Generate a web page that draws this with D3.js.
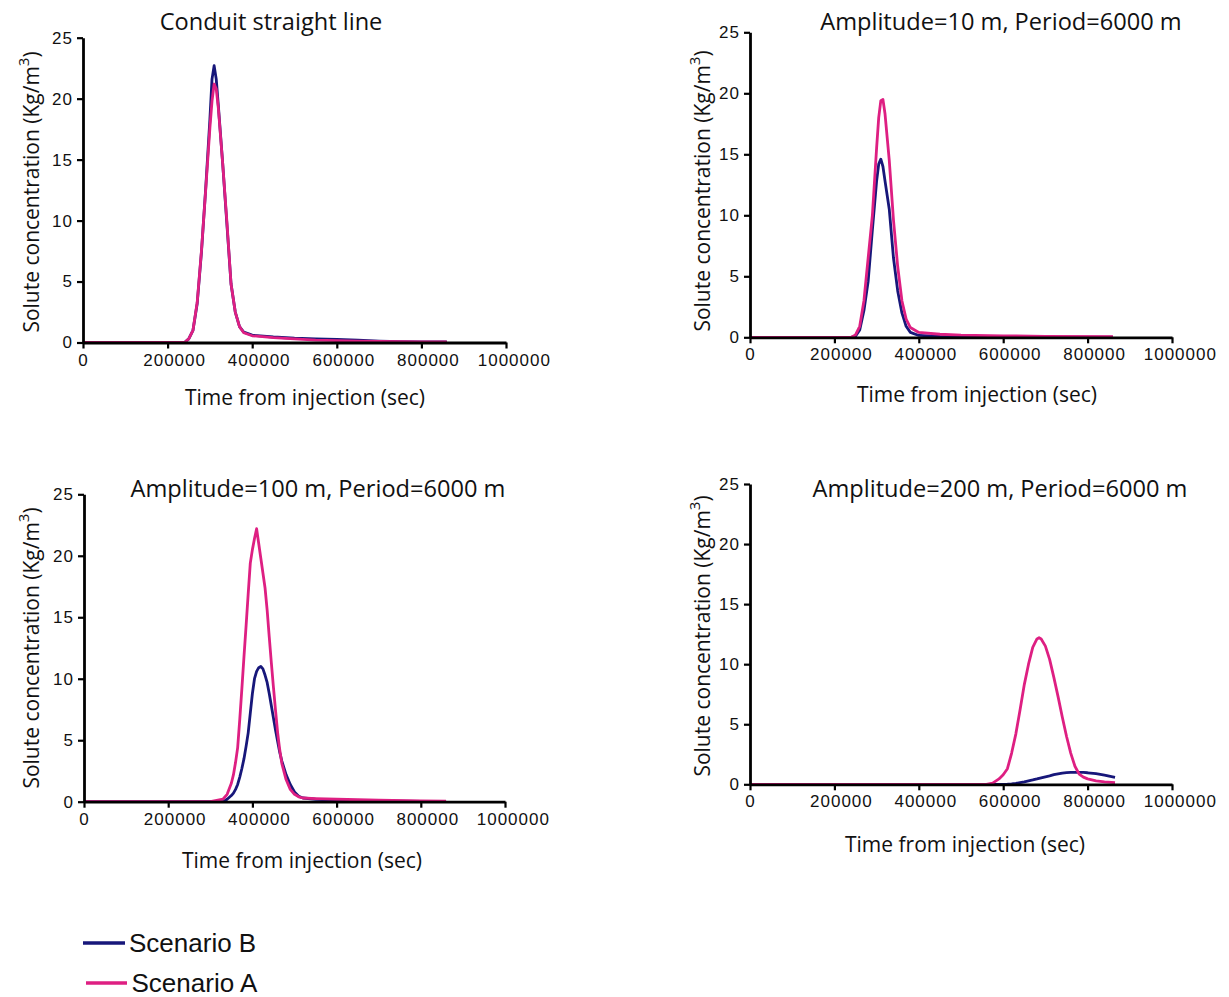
<!DOCTYPE html>
<html>
<head>
<meta charset="utf-8">
<script src="https://cdn.jsdelivr.net/npm/d3@7"></script>
<style>
  html, body { margin: 0; padding: 0; background: #ffffff; }
  svg { display: block; }
</style>
</head>
<body>
<svg id="chart" width="1229" height="997"></svg>
<script>
// ---------------- DATA ----------------
const panelTitles = [
  "Conduit straight line",
  "Amplitude=10 m, Period=6000 m",
  "Amplitude=100 m, Period=6000 m",
  "Amplitude=200 m, Period=6000 m"
];
const seriesNames = ["Scenario B", "Scenario A"];
const xTickValues = [0, 200000, 400000, 600000, 800000, 1000000];
const yTickValues = [0, 5, 10, 15, 20, 25];
const xLabel = "Time from injection (sec)";
const yLabelMain = "Solute concentration (Kg/m";
const yLabelSup = "3";
const yLabelEnd = ")";

// Panel 1: Conduit straight line
const p1Time = [0,100000,200000,240000,250000,260000,270000,280000,290000,300000,305000,310000,315000,320000,330000,340000,350000,360000,370000,380000,400000,450000,500000,550000,600000,650000,700000,750000,800000,860000];
const p1B = [0,0,0,0,0.3,1.0,3.2,7.4,12.6,18.3,21.6,22.7,21.6,19.4,14.8,9.8,4.8,2.5,1.3,0.85,0.6,0.45,0.35,0.3,0.25,0.2,0.12,0.07,0.05,0.05];
const p1A = [0,0,0,0,0.3,1.0,3.3,7.5,12.5,17.6,19.8,21.2,20.8,19.2,14.8,10.0,4.8,2.5,1.3,0.8,0.55,0.4,0.3,0.2,0.15,0.12,0.1,0.07,0.05,0.05];

// Panel 2: Amplitude=10 m
const p2Time = [0,100000,200000,240000,250000,260000,270000,280000,290000,300000,305000,310000,315000,320000,330000,340000,350000,360000,370000,380000,400000,450000,500000,600000,700000,860000];
const p2B = [0,0,0,0,0.1,0.6,2.2,4.6,8.8,12.8,14.2,14.6,14.0,12.8,10.5,6.5,3.8,2.0,0.9,0.4,0.15,0.08,0.05,0.03,0.02,0.02];
const p2A = [0,0,0,0,0.2,0.9,3.0,6.5,10.0,15.5,18.0,19.4,19.5,18.3,14.5,9.6,5.8,3.0,1.5,0.8,0.4,0.25,0.18,0.12,0.08,0.05];

// Panel 3: Amplitude=100 m
const p3Time = [0,100000,200000,300000,330000,340000,350000,355000,360000,365000,370000,375000,380000,385000,390000,395000,400000,405000,410000,415000,420000,425000,430000,435000,440000,445000,450000,455000,460000,465000,470000,480000,490000,500000,510000,520000,550000,600000,700000,800000,860000];
const p3B = [0,0,0,0,0,0.2,0.5,0.7,1.0,1.4,2.0,2.7,3.5,4.5,5.6,7.2,8.8,10.0,10.6,10.9,11.0,10.8,10.3,9.7,8.8,7.8,6.8,5.8,4.9,4.0,3.3,2.2,1.4,0.8,0.45,0.3,0.2,0.12,0.06,0.03,0.03];
const p3A = [0,0,0,0,0.2,0.6,1.5,2.2,3.2,4.4,6.7,9.2,11.8,14.3,16.9,19.4,20.5,21.4,22.2,21.0,19.8,18.6,17.4,15.6,13.4,11.3,9.3,7.4,5.6,4.2,3.1,1.8,1.0,0.6,0.4,0.3,0.25,0.2,0.12,0.06,0.05];

// Panel 4: Amplitude=200 m
const p4Time = [0,200000,400000,560000,575000,590000,600000,610000,620000,630000,640000,650000,660000,670000,680000,685000,690000,700000,710000,720000,730000,740000,750000,760000,770000,780000,790000,800000,820000,840000,865000];
const p4B = [0,0,0,0,0,0,0,0.01,0.03,0.08,0.14,0.2,0.28,0.36,0.45,0.5,0.54,0.62,0.7,0.8,0.87,0.93,0.97,0.99,1.0,1.0,0.99,0.96,0.88,0.76,0.58];
const p4A = [0,0,0,0,0.1,0.45,0.8,1.3,2.6,4.2,6.2,8.3,10.0,11.4,12.1,12.2,12.1,11.5,10.4,8.9,7.3,5.6,4.0,2.6,1.5,0.85,0.6,0.45,0.28,0.2,0.14];

// ---------------- LAYOUT ----------------
const colors = { B: "#17177a", A: "#de1f82" };
const labelFont = "'Open Sans', 'Noto Sans', sans-serif";
const tickFont = "'Liberation Sans', Arial, sans-serif";

const panels = [
  { t: p1Time, B: p1B, A: p1A, x0: 83,  x1: 506,  yTop: 37.7,  yBot: 342.5, titleX: 271,  titleY: 30,  xlabX: 305, xlabY: 405,  ylabX: 32,  ylabY: 192 },
  { t: p2Time, B: p2B, A: p2A, x0: 750, x1: 1172, yTop: 32.3,  yBot: 337.3, titleX: 1001, titleY: 30,  xlabX: 977, xlabY: 402,  ylabX: 703, ylabY: 191 },
  { t: p3Time, B: p3B, A: p3A, x0: 84,  x1: 505,  yTop: 494.3, yBot: 801.7, titleX: 318,  titleY: 497, xlabX: 302, xlabY: 868,  ylabX: 32,  ylabY: 648 },
  { t: p4Time, B: p4B, A: p4A, x0: 750, x1: 1172, yTop: 484,   yBot: 784.3, titleX: 1000, titleY: 497, xlabX: 965, xlabY: 852,  ylabX: 703, ylabY: 636 }
];

const svg = d3.select("#chart");
svg.append("rect").attr("width", 1229).attr("height", 997).attr("fill", "#ffffff");

panels.forEach((p, i) => {
  const x = d3.scaleLinear().domain([0, 1000000]).range([p.x0, p.x1]);
  const y = d3.scaleLinear().domain([0, 25]).range([p.yBot, p.yTop]);
  const g = svg.append("g");

  const line = d3.line()
    .x((d, k) => x(p.t[k]))
    .y(d => y(d));

  // series: B first, A on top
  [["B", p.B], ["A", p.A]].forEach(([key, vals]) => {
    g.append("path")
      .datum(vals)
      .attr("d", line)
      .attr("fill", "none")
      .attr("stroke", colors[key])
      .attr("stroke-width", 2.8)
      .attr("stroke-linejoin", "round");
  });

  // axes
  const xAxis = g.append("g")
    .attr("transform", `translate(0,${p.yBot})`)
    .call(d3.axisBottom(x).tickValues(xTickValues).tickSize(6).tickSizeOuter(0).tickPadding(5).tickFormat(d3.format("d")));
  const yAxis = g.append("g")
    .attr("transform", `translate(${p.x0},0)`)
    .call(d3.axisLeft(y).tickValues(yTickValues).tickSize(6).tickSizeOuter(0).tickPadding(4));

  [xAxis, yAxis].forEach(a => {
    a.select(".domain").attr("stroke", "#000").attr("stroke-width", 2.8);
    a.selectAll(".tick line").attr("stroke", "#000").attr("stroke-width", 2.2);
    a.selectAll(".tick text")
      .attr("fill", "#111")
      .style("font-family", tickFont)
      .style("font-size", "17px")
      .style("letter-spacing", "1px");
  });
  xAxis.selectAll(".tick text").attr("dx", d => (String(d).length - 1) * 1.3);

  // title
  g.append("text")
    .attr("x", p.titleX).attr("y", p.titleY)
    .attr("text-anchor", "middle")
    .style("font-family", labelFont)
    .style("font-size", "23.6px")
    .attr("fill", "#111")
    .text(panelTitles[i]);

  // x label
  g.append("text")
    .attr("x", p.xlabX).attr("y", p.xlabY)
    .attr("text-anchor", "middle")
    .style("font-family", labelFont)
    .style("font-size", "21px")
    .attr("fill", "#111")
    .text(xLabel);

  // y label
  const yl = g.append("text")
    .attr("transform", `translate(${p.ylabX + 7},${p.ylabY}) rotate(-90)`)
    .attr("text-anchor", "middle")
    .style("font-family", labelFont)
    .style("font-size", "21px")
    .attr("fill", "#111");
  yl.append("tspan").text(yLabelMain);
  yl.append("tspan").attr("dy", -10).style("font-size", "15px").text(yLabelSup);
  yl.append("tspan").attr("dy", 10).text(yLabelEnd);
});

// legend
const legend = svg.append("g");
const legendItems = [
  { name: seriesNames[0], color: colors.B, lx0: 83, lx1: 125, ly: 943, tx: 129, ty: 952 },
  { name: seriesNames[1], color: colors.A, lx0: 86, lx1: 127, ly: 983, tx: 131.5, ty: 992 }
];
legendItems.forEach(it => {
  legend.append("line")
    .attr("x1", it.lx0).attr("x2", it.lx1)
    .attr("y1", it.ly).attr("y2", it.ly)
    .attr("stroke", it.color).attr("stroke-width", 3.5);
  legend.append("text")
    .attr("x", it.tx).attr("y", it.ty)
    .style("font-family", tickFont)
    .style("font-size", "26px")
    .attr("fill", "#111")
    .text(it.name);
});
</script>
</body>
</html>
